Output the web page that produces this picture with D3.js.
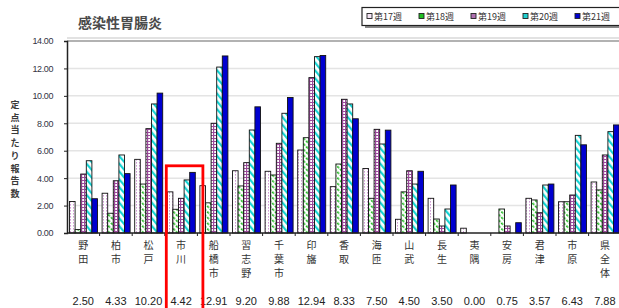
<!DOCTYPE html>
<html>
<head>
<meta charset="utf-8">
<script src="https://cdn.jsdelivr.net/npm/d3@7"></script>
<style>
  body { margin: 0; background: #fff; }
  svg { display: block; }
</style>
</head>
<body>
<script>
const regions = ["野田", "柏市", "松戸", "市川", "船橋市", "習志野", "千葉市", "印旛", "香取", "海匝", "山武", "長生", "夷隅", "安房", "君津", "市原", "県全体"]
const weeks = ["第17週", "第18週", "第19週", "第20週", "第21週"]
const wk17 = [2.30, 2.90, 5.37, 3.00, 3.45, 4.54, 4.50, 6.05, 3.38, 4.70, 1.00, 2.53, 0.35, 0.00, 2.53, 2.28, 3.72]
const wk18 = [0.25, 1.44, 3.57, 1.73, 2.20, 3.43, 4.23, 6.95, 5.03, 2.53, 3.00, 1.02, 0.00, 1.75, 2.41, 2.28, 3.14]
const wk19 = [4.30, 3.81, 7.61, 2.53, 8.00, 5.13, 6.54, 11.33, 9.75, 7.56, 4.54, 0.51, 0.00, 0.51, 1.48, 2.77, 5.69]
const wk20 = [5.27, 5.69, 9.41, 3.87, 12.10, 7.51, 8.73, 12.86, 9.41, 6.49, 3.57, 1.75, 0.00, 0.00, 3.50, 7.12, 7.39]
const wk21 = [2.50, 4.33, 10.20, 4.42, 12.91, 9.20, 9.88, 12.94, 8.33, 7.50, 4.50, 3.50, 0.00, 0.75, 3.57, 6.43, 7.88]
const yTicks = [0, 2, 4, 6, 8, 10, 12, 14]
const series = [wk17, wk18, wk19, wk20, wk21]

const width = 619, height = 308
const jp = "'Noto Sans CJK JP', sans-serif"
const latin = "'Liberation Sans', Arial, sans-serif"

const svg = d3.select("body").append("svg")
  .attr("width", width)
  .attr("height", height)

// fill patterns
const defs = svg.append("defs")
const p17 = defs.append("pattern").attr("id", "p17")
  .attr("patternUnits", "userSpaceOnUse").attr("width", 3).attr("height", 3)
p17.append("rect").attr("width", 3).attr("height", 3).attr("fill", "#fff")
p17.append("rect").attr("x", 1).attr("width", 1).attr("height", 1.6).attr("fill", "#d09ad4")

const p18 = defs.append("pattern").attr("id", "p18")
  .attr("patternUnits", "userSpaceOnUse").attr("width", 4).attr("height", 4)
  .attr("patternTransform", "rotate(-45)")
p18.append("rect").attr("width", 4).attr("height", 4).attr("fill", "#fff")
p18.append("rect").attr("width", 1.6).attr("height", 2.6).attr("fill", "#1cb81c")

const p19 = defs.append("pattern").attr("id", "p19")
  .attr("patternUnits", "userSpaceOnUse").attr("width", 3).attr("height", 3)
p19.append("rect").attr("width", 3).attr("height", 3).attr("fill", "#fff")
p19.append("rect").attr("width", 1.2).attr("height", 3).attr("fill", "#9a4a9a")
p19.append("rect").attr("width", 3).attr("height", 1).attr("fill", "#9a4a9a")

const p20 = defs.append("pattern").attr("id", "p20")
  .attr("patternUnits", "userSpaceOnUse").attr("width", 5).attr("height", 5)
  .attr("patternTransform", "rotate(-40)")
p20.append("rect").attr("width", 5).attr("height", 5).attr("fill", "#fff")
p20.append("rect").attr("width", 2.2).attr("height", 5).attr("fill", "#14d4d4")

const fills = ["url(#p17)", "url(#p18)", "url(#p19)", "url(#p20)", "#0000d0"]
const swatchFills = ["#f4e4f4", "#22c022", "#b070b0", "#20d0d0", "#0000d0"]

// scales
const x0 = d3.scaleBand().domain(regions).range([67, 67 + 32.6 * regions.length])
const x1 = d3.scaleBand().domain(weeks).range([2.5, 30.5])
const y = d3.scaleLinear().domain([0, 14]).range([233, 41])

// gridlines
svg.append("g")
  .selectAll("line")
  .data(yTicks.slice(1, -1))
  .join("line")
    .attr("x1", 67).attr("x2", width)
    .attr("y1", d => y(d)).attr("y2", d => y(d))
    .attr("stroke", "#e4e4e4")
    .attr("stroke-width", 1.5)

// top frame line
svg.append("line")
  .attr("x1", 67).attr("x2", width)
  .attr("y1", y(14)).attr("y2", y(14))
  .attr("stroke", "#999").attr("stroke-width", 1.5)
svg.append("line")
  .attr("x1", 67).attr("x2", width)
  .attr("y1", y(14) - 3).attr("y2", y(14) - 3)
  .attr("stroke", "#e2e2e2").attr("stroke-width", 2)

// bars
const gBars = svg.append("g")
regions.forEach((r, i) => {
  series.forEach((s, j) => {
    const v = s[i]
    if (v <= 0) return
    gBars.append("rect")
      .attr("x", x0(r) + x1(weeks[j]))
      .attr("y", y(v))
      .attr("width", x1.bandwidth())
      .attr("height", y(0) - y(v))
      .attr("fill", fills[j])
      .attr("stroke", "#111")
      .attr("stroke-width", 0.9)
  })
})

// y axis
const yAxis = svg.append("g")
  .attr("transform", "translate(67,0)")
  .call(d3.axisLeft(y).tickValues(yTicks).tickSize(3).tickFormat(d3.format(".2f")))
yAxis.select(".domain").attr("stroke", "#222").attr("stroke-width", 1.5)
yAxis.selectAll(".tick line").attr("stroke", "#222")
yAxis.selectAll(".tick text")
  .attr("x", -14)
  .attr("font-family", latin)
  .attr("font-size", 9)
  .attr("fill", "#334")
  .style("letter-spacing", "-0.4px")

// x axis
const xAxis = svg.append("g")
  .attr("transform", `translate(0,${y(0)})`)
xAxis.append("line")
  .attr("x1", 67).attr("x2", width)
  .attr("stroke", "#222").attr("stroke-width", 1.5)
xAxis.selectAll(".xt")
  .data(regions.slice(1))
  .join("line")
    .attr("class", "xt")
    .attr("x1", d => x0(d)).attr("x2", d => x0(d))
    .attr("y1", 0).attr("y2", 3)
    .attr("stroke", "#222")

// category labels, stacked vertically
const gLabels = svg.append("g")
  .attr("font-family", jp)
  .attr("font-size", 10)
  .attr("fill", "#333")
  .attr("text-anchor", "middle")
regions.forEach(r => {
  const cx = x0(r) + x0.bandwidth() / 2
  Array.from(r).forEach((ch, k) => {
    gLabels.append("text")
      .attr("x", cx)
      .attr("y", 249 + k * 14)
      .text(ch)
  })
})

// 21週 values row
svg.append("g")
  .attr("font-family", latin)
  .attr("font-size", 11)
  .attr("fill", "#222")
  .attr("text-anchor", "middle")
  .selectAll("text")
  .data(regions)
  .join("text")
    .attr("x", d => x0(d) + x0.bandwidth() / 2)
    .attr("y", 305)
    .text((d, i) => wk21[i].toFixed(2))

// y axis title
svg.append("g")
  .attr("font-family", jp)
  .attr("font-size", 9)
  .attr("font-weight", 700)
  .attr("fill", "#3a3a3a")
  .attr("text-anchor", "middle")
  .selectAll("text")
  .data(Array.from("定点当たり報告数"))
  .join("text")
    .attr("x", 15)
    .attr("y", (d, i) => 108 + i * 12.7)
    .text(d => d)

// chart title
svg.append("text")
  .attr("x", 78).attr("y", 28)
  .attr("font-family", jp)
  .attr("font-size", 14)
  .attr("font-weight", 700)
  .attr("fill", "#4a4a4a")
  .text("感染性胃腸炎")

// legend
const legend = svg.append("g")
legend.append("rect")
  .attr("x", 365).attr("y", 10)
  .attr("width", 270).attr("height", 18)
  .attr("fill", "#888")
legend.append("rect")
  .attr("x", 362).attr("y", 7.5)
  .attr("width", 270).attr("height", 18)
  .attr("fill", "#fff").attr("stroke", "#222").attr("stroke-width", 1.2)
weeks.forEach((w, j) => {
  const lx = 367 + j * 52
  legend.append("rect")
    .attr("x", lx).attr("y", 13.5)
    .attr("width", 5).attr("height", 5)
    .attr("fill", swatchFills[j])
    .attr("stroke", "#222").attr("stroke-width", 0.9)
  legend.append("text")
    .attr("x", lx + 7).attr("y", 20)
    .attr("font-family", jp)
    .attr("font-size", 9)
    .attr("fill", "#333")
    .text(w)
})

// red highlight box around 市川
svg.append("rect")
  .attr("x", x0("市川") + 1.5)
  .attr("y", y(4.9))
  .attr("width", x0.bandwidth() + 4)
  .attr("height", 200)
  .attr("fill", "none")
  .attr("stroke", "#ff0000")
  .attr("stroke-width", 2.8)
</script>
</body>
</html>
